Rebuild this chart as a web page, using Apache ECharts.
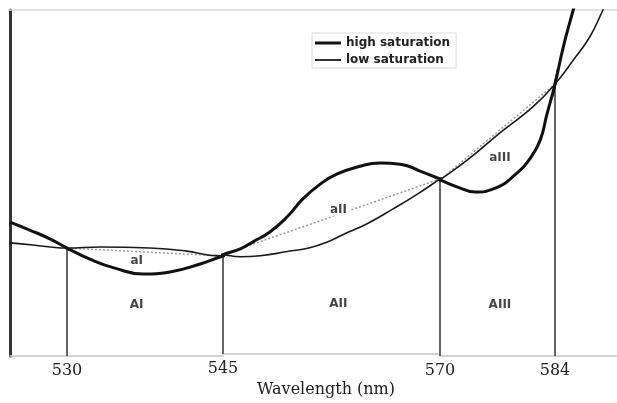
<!DOCTYPE html>
<html><head><meta charset="utf-8">
<script src="https://cdn.jsdelivr.net/npm/echarts@6/dist/echarts.min.js"></script>
<style>html,body{margin:0;padding:0;background:#fff}#chart{width:617px;height:403px}</style>
</head><body><div id="chart"></div>
<script>
// ---------------- data ----------------
const seriesNames = ['high saturation', 'low saturation'];

const highSatWavelength = [524.5, 526.4, 528.4, 530, 532.2, 534.6, 537.3, 539.9, 542.8, 545,
  547.0, 548.5, 550.4, 552.4, 554.2, 556.2, 558.1, 560.8, 563.1, 565.4,
  567.7, 570, 572.4, 574.3, 576.5, 579.4, 581.0, 582.2, 583.0, 584,
  585.0, 586.2, 587.0];
const highSatValue = [38.7, 36.4, 33.8, 31.2, 28.0, 25.4, 23.7, 24.3, 26.6, 28.9,
  30.6, 32.7, 35.5, 39.9, 45.1, 49.4, 52.3, 54.6, 55.5, 55.2,
  53.2, 50.9, 48.6, 47.4, 48.3, 52.9, 57.2, 62.4, 69.7, 78.6,
  89.3, 100.0, 107.2];

const lowSatWavelength = [524.5, 526.7, 528.4, 530, 533.2, 538.0, 541.5, 543.5, 545, 547.0,
  549.3, 552.4, 555.0, 557.3, 558.8, 561.6, 564.6, 567.4, 570, 573.3,
  577.3, 581.3, 584, 586.2, 588.2, 589.8, 590.9];
const lowSatValue = [32.7, 32.1, 31.5, 31.2, 31.5, 31.2, 30.3, 29.2, 28.9, 28.3,
  28.6, 29.8, 30.9, 32.9, 34.7, 37.9, 42.2, 46.5, 50.9, 56.6,
  64.5, 72.0, 78.6, 85.5, 92.2, 100.0, 105.5];

// crossing points of the two curves (tick labels are these wavelengths)
const crossingWavelength = [530, 545, 570, 584];
const crossingValue = [31.2, 28.9, 50.9, 78.6];

// region annotations
const regionLabels = ['AI', 'AII', 'AIII'];
const regionLabelWavelength = [536.7, 558.3, 577.3];
const regionLabelValue = [14.7, 14.7, 14.7];
const areaLabels = ['aI', 'aII', 'aIII'];
const areaLabelWavelength = [536.7, 558.3, 577.3];
const areaLabelValue = [27.4, 42.0, 57.2];

// x-axis range pieces (the reference axis is drawn piecewise between the crossings)
const axisBounds = [524.5, 530, 545, 570, 584, 591.5];

// ---------------- layout ----------------
const gridEdgesPx = [10, 67, 223, 440, 555, 617];
const plotTop = 10, plotHeight = 346;

function segmentOf(w) {
  for (let i = 0; i < axisBounds.length - 2; i++) { if (w < axisBounds[i + 1]) return i; }
  return axisBounds.length - 2;
}
function zip(a, b) { return a.map((v, i) => [v, b[i]]); }

const grids = [], xAxes = [], yAxes = [], series = [];
const nSeg = axisBounds.length - 1;
for (let i = 0; i < nSeg; i++) {
  const lo = axisBounds[i], hi = axisBounds[i + 1];
  grids.push({ left: gridEdgesPx[i], width: gridEdgesPx[i + 1] - gridEdgesPx[i], top: plotTop, height: plotHeight });
  const xa = {
    gridIndex: i, type: 'value', min: lo, max: hi, interval: hi - lo,
    axisLine: { show: true, lineStyle: { color: '#c6c6c6', width: 1.5 } },
    axisTick: { show: false }, splitLine: { show: false },
    axisLabel: { show: i > 0, showMinLabel: true, showMaxLabel: false, margin: 7,
      color: '#222', fontFamily: 'DejaVu Serif', fontSize: 16 }
  };
  if (i === 2) {
    xa.name = 'Wavelength (nm)';
    xa.nameLocation = 'middle';
    xa.nameGap = 23;
    xa.nameTextStyle = { color: '#222', fontFamily: 'DejaVu Serif', fontSize: 16, padding: [0, 11, 0, 0] };
  }
  xAxes.push(xa);
  yAxes.push({
    gridIndex: i, type: 'value', min: 0, max: 100, show: i === 0,
    axisLine: { show: true, lineStyle: { color: '#333', width: 3 } },
    axisTick: { show: false }, axisLabel: { show: false }, splitLine: { show: false }
  });
  series.push({
    type: 'line', name: seriesNames[0], xAxisIndex: i, yAxisIndex: i,
    data: zip(highSatWavelength, highSatValue), smooth: 0.5, symbol: 'none',
    lineStyle: { color: '#111', width: 3 }, itemStyle: { color: '#111' }, z: 4, silent: true
  });
  series.push({
    type: 'line', name: seriesNames[1], xAxisIndex: i, yAxisIndex: i,
    data: zip(lowSatWavelength, lowSatValue), smooth: 0.5, symbol: 'none',
    lineStyle: { color: '#1a1a1a', width: 1.6 }, itemStyle: { color: '#1a1a1a' }, z: 4, silent: true
  });
}

// vertical lines from the axis to each crossing
crossingWavelength.forEach((w, k) => {
  const g = segmentOf(w);
  series.push({
    type: 'line', name: 'crossing', xAxisIndex: g, yAxisIndex: g, clip: false,
    data: [[w, 0], [w, crossingValue[k]]], symbol: 'none',
    lineStyle: { color: '#666', width: 2 }, z: 2, silent: true
  });
});

// dotted chords between consecutive crossings
for (let k = 0; k < crossingWavelength.length - 1; k++) {
  const g = segmentOf(crossingWavelength[k]);
  series.push({
    type: 'line', name: 'chord', xAxisIndex: g, yAxisIndex: g, clip: false,
    data: [[crossingWavelength[k], crossingValue[k]], [crossingWavelength[k + 1], crossingValue[k + 1]]],
    symbol: 'none', lineStyle: { color: '#9a9a9a', width: 1.5, type: [2, 2] }, z: 3, silent: true
  });
}

// annotation labels
function addLabels(names, ws, vs, bg) {
  names.forEach((n, k) => {
    const g = segmentOf(ws[k]);
    series.push({
      type: 'scatter', name: 'label', xAxisIndex: g, yAxisIndex: g, symbolSize: 0,
      data: [{ name: n, value: [ws[k], vs[k]] }], z: 6, silent: true,
      label: { show: true, position: 'inside', formatter: '{b}', color: '#151515',
        fontFamily: 'DejaVu Sans', fontWeight: 'bold', fontSize: 12,
        backgroundColor: bg, padding: [1, 4] }
    });
  });
}
addLabels(regionLabels, regionLabelWavelength, regionLabelValue, 'transparent');
addLabels(areaLabels, areaLabelWavelength, areaLabelValue, '#fff');

const chart = echarts.init(document.getElementById('chart'), null, { renderer: 'canvas' });
chart.setOption({
  animation: false,
  backgroundColor: '#fff',
  grid: grids, xAxis: xAxes, yAxis: yAxes,
  legend: {
    data: [
      { name: seriesNames[0], icon: 'path://M0,0H26V3H0Z', itemStyle: { color: '#111' } },
      { name: seriesNames[1], icon: 'path://M0,0H26V1.8H0Z', itemStyle: { color: '#1a1a1a' } }
    ],
    orient: 'vertical', left: 312, top: 33,
    padding: [4, 6, 2, 3], itemGap: 5, itemWidth: 26, itemHeight: 12,
    borderColor: '#dcdcdc', borderWidth: 1, backgroundColor: '#fff',
    textStyle: { color: '#222', fontFamily: 'DejaVu Sans', fontWeight: 'bold', fontSize: 12 },
    selectedMode: false
  },
  graphic: [{ type: 'line', shape: { x1: 8, y1: 10, x2: 617, y2: 10 },
    style: { stroke: '#d8d8d8', lineWidth: 1.5 }, z: 1, silent: true }],
  series: series
});
</script>
</body></html>
